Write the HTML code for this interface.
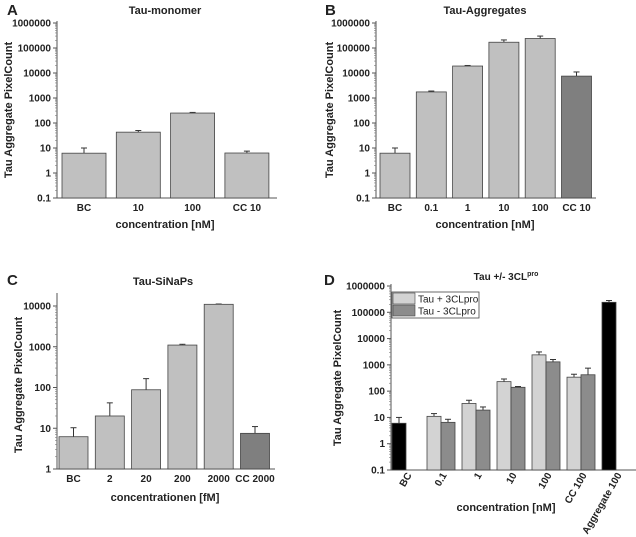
<!DOCTYPE html>
<html><head><meta charset="utf-8"><style>
html,body{margin:0;padding:0;background:#fff;}
svg{display:block;font-family:"Liberation Sans",Arial,sans-serif;font-weight:bold;}
</style></head><body>
<svg id="fig" width="636" height="537" viewBox="0 0 636 537" xmlns="http://www.w3.org/2000/svg">
<g id="pa"></g>
<g id="pb"></g>
<g id="pc"></g>
<g id="pd"></g>
</svg>
<script>
// Panel A
const aCats=["BC","10","100","CC 10"];
const aVals=[6.2,43,250,6.3];
const aErr=[10,50,265,7.5];
// Panel B
const bCats=["BC","0.1","1","10","100","CC 10"];
const bVals=[6.2,1750,19000,170000,240000,7500];
const bErr=[10,1900,20000,210000,300000,11000];
// Panel C
const cCats=["BC","2","20","200","2000","CC 2000"];
const cVals=[6.2,20,88,1100,11000,7.5];
const cErr=[10.3,42,165,1150,11200,11];
// Panel D
const dCats=["BC","0.1","1","10","100","CC 100","Aggregate 100"];
const dPlus=[6,11,34,230,2400,340,240000];
const dPlusErr=[10,14,45,290,3100,440,280000];
const dMinus=[null,6.5,19,140,1300,420,null];
const dMinusErr=[null,8.5,25,150,1600,750,null];
const tickA=["0.1","1","10","100","1000","10000","100000","1000000"];
const tickC=["1","10","100","1000","10000"];

const NS="http://www.w3.org/2000/svg";
function mk(p,tag,at,name){const e=document.createElementNS(NS,tag);for(const k in at)e.setAttribute(k,at[k]);


p.appendChild(e);return e;}
function txt(p,x,y,s,size,anchor,name,extra){const t=mk(p,'text',Object.assign({x:x,y:y,'font-size':size,'text-anchor':anchor||'middle',fill:'#222'},extra||{}),name);t.textContent=s;return t;}

function panel(g,o){
  const y=v=>o.y0-(Math.log10(v)-o.lmin)/(o.lmax-o.lmin)*(o.y0-o.y1);
  mk(g,'line',{x1:o.ax,y1:o.top,x2:o.ax,y2:o.y0,stroke:'#555','stroke-width':1},'y-axis');
  mk(g,'line',{x1:o.ax,y1:o.y0,x2:o.ar,y2:o.y0,stroke:'#555','stroke-width':1},'x-axis');
  o.ticks.forEach(tl=>{const v=parseFloat(tl),yy=y(v);
    mk(g,'line',{x1:o.ax-4,y1:yy,x2:o.ax,y2:yy,stroke:'#555'},'y-tick');
    txt(g,o.ax-6,yy+3.5,tl,10,'end','y-tick-label');
    for(let m=2;m<10;m++){const mv=v*m;if(Math.log10(mv)>o.lmax+1e-9||tl===o.ticks[o.ticks.length-1])continue;const my=y(mv);
      mk(g,'line',{x1:o.ax-2,y1:my,x2:o.ax,y2:my,stroke:'#777','stroke-width':0.6},'y-minor-tick');}
  });
  o.series.forEach(s=>{
    s.vals.forEach((v,i)=>{if(v==null)return;
      const x=o.x0+i*o.sp+s.off;const col=(s.colors&&s.colors[i])||s.color;
      const yy=y(v);const ye=y(s.err[i]);const cx=x+o.bw/2;
      mk(g,'line',{x1:cx,y1:yy,x2:cx,y2:ye,stroke:'#333','stroke-width':1},'error-bar');
      mk(g,'line',{x1:cx-3,y1:ye,x2:cx+3,y2:ye,stroke:'#333','stroke-width':1},'error-cap');
      mk(g,'rect',{x:x,y:yy,width:o.bw,height:o.y0-yy,fill:col,stroke:'#444','stroke-width':0.8},'bar-'+s.name+'-'+i);
    });
  });
  o.cats.forEach((c,i)=>{const cx=o.x0+i*o.sp+o.lx;
    if(o.rot){txt(g,cx+6,o.y0+5,c,10,'end','x-tick-label',{transform:`rotate(-60 ${cx+6} ${o.y0+5})`});}
    else txt(g,cx,o.y0+13,c,10,'middle','x-tick-label');});
}

panel(document.getElementById('pa'),{ax:57,ar:277,top:21,y0:198,y1:23,lmin:-1,lmax:6,ticks:tickA,cats:aCats,
 x0:62,sp:54.3,bw:44,lx:22,series:[{name:'a',vals:aVals,err:aErr,off:0,color:'#c0c0c0'}]});
panel(document.getElementById('pb'),{ax:376,ar:596,top:21,y0:198,y1:23,lmin:-1,lmax:6,ticks:tickA,cats:bCats,
 x0:380,sp:36.3,bw:30,lx:15,series:[{name:'b',vals:bVals,err:bErr,off:0,color:'#c0c0c0',colors:[0,0,0,0,0,'#7f7f7f']}]});
panel(document.getElementById('pc'),{ax:57,ar:275,top:293,y0:469,y1:306,lmin:0,lmax:4,ticks:tickC,cats:cCats,
 x0:59,sp:36.3,bw:29,lx:14.5,series:[{name:'c',vals:cVals,err:cErr,off:0,color:'#c0c0c0',colors:[0,0,0,0,0,'#7f7f7f']}]});
panel(document.getElementById('pd'),{ax:391,ar:636,top:284,y0:470,y1:286,lmin:-1,lmax:6,ticks:tickA,cats:dCats,rot:true,
 x0:392,sp:35,bw:14,lx:14,series:[
  {name:'plus',vals:dPlus,err:dPlusErr,off:0,color:'#d3d3d3',colors:['#000',0,0,0,0,0,'#000']},
  {name:'minus',vals:dMinus,err:dMinusErr,off:14,color:'#8c8c8c'}]});

const A=document.getElementById('pa'),B=document.getElementById('pb'),C=document.getElementById('pc'),D=document.getElementById('pd');
txt(A,7,15,'A',15,'start','panel-letter-a');
txt(A,165,14,'Tau-monomer',11,'middle','title-a');
txt(A,165,228,'concentration [nM]',11,'middle','x-axis-title-a');
txt(A,12,110,'Tau Aggregate PixelCount',11,'middle','y-axis-title-a',{transform:'rotate(-90 12 110)'});
txt(B,325,15,'B',15,'start','panel-letter-b');
txt(B,485,14,'Tau-Aggregates',11,'middle','title-b');
txt(B,485,228,'concentration [nM]',11,'middle','x-axis-title-b');
txt(B,333,110,'Tau Aggregate PixelCount',11,'middle','y-axis-title-b',{transform:'rotate(-90 333 110)'});
txt(C,7,285,'C',15,'start','panel-letter-c');
txt(C,163,285,'Tau-SiNaPs',11,'middle','title-c');
txt(C,165,501,'concentrationen [fM]',11,'middle','x-axis-title-c');
txt(C,22,385,'Tau Aggregate PixelCount',11,'middle','y-axis-title-c',{transform:'rotate(-90 22 385)'});
txt(D,324,285,'D',15,'start','panel-letter-d');
const tt=txt(D,506,280,'Tau +/- 3CL',10,'middle','title-d');
const sp=mk(tt,'tspan',{'font-size':7,dy:-4},'title-d-superscript');sp.textContent='pro';
txt(D,506,511,'concentration [nM]',11,'middle','x-axis-title-d');
txt(D,341,378,'Tau Aggregate PixelCount',11,'middle','y-axis-title-d',{transform:'rotate(-90 341 378)'});
const lg=mk(D,'g',{},'legend');
mk(lg,'rect',{x:392,y:292,width:87,height:26,fill:'#fff',stroke:'#444','stroke-width':0.8},'legend-box');
mk(lg,'rect',{x:393,y:293,width:22,height:11,fill:'#d3d3d3',stroke:'#444','stroke-width':0.6},'legend-swatch-plus');
mk(lg,'rect',{x:393,y:305,width:22,height:11,fill:'#8c8c8c',stroke:'#444','stroke-width':0.6},'legend-swatch-minus');
txt(lg,418,302.5,'Tau + 3CLpro',10,'start','legend-entry-plus',{'font-weight':'normal'});
txt(lg,418,314.5,'Tau - 3CLpro',10,'start','legend-entry-minus',{'font-weight':'normal'});
</script>
</body></html>
